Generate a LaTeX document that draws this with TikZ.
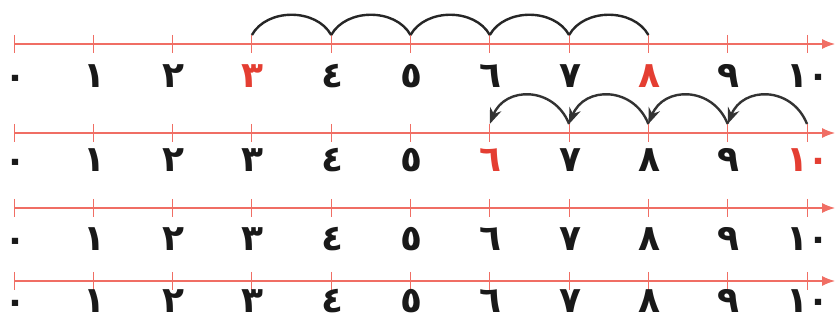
\documentclass[tikz,border=0pt]{standalone}
\usepackage{fontspec}
\newfontfamily\arabicfont[Script=Arabic]{DejaVu Sans}
\usetikzlibrary{arrows.meta}
\definecolor{linered}{RGB}{240,110,100}
\definecolor{numred}{RGB}{228,62,50}

\begin{document}
\begin{tikzpicture}[
    x=1pt, y=-1pt,
    axisline/.style={draw=linered, line width=1.2pt, -{Latex[length=13pt,width=10pt]}},
    tickmark/.style={draw=linered, line width=0.9pt},
    numlabel/.style={font=\arabicfont\bfseries\fontsize{36}{38}\selectfont, inner sep=0pt, text=black!90},
    hoparc/.style={draw=black!85, line width=2.4pt},
    backarc/.style={draw=black!80, line width=2.4pt, -{Stealth[length=16pt,width=12pt]}}
  ]
  \useasboundingbox (0,0) rectangle (836,323);

  % the four number lines, ticks and labels
  \foreach \row/\yy/\ly/\ra/\rb in {1/44/76/3/8, 2/133/160/6/10, 3/208/239/-1/-1, 4/281/301/-1/-1} {
    \coordinate (s\row) at (14,\yy);
    \coordinate (e\row) at (835,\yy);
    \draw[axisline] (s\row) -- (e\row);
    \foreach \n [count=\k from 0] in {٠,١,٢,٣,٤,٥,٦,٧,٨,٩,١٠} {
      \coordinate (t\row-\k) at ({14+79.3*\k},{\yy-9});
      \draw[tickmark] (t\row-\k) -- ++(0,18);
      \pgfmathsetmacro\zs{(\k==0)*(-6)}
      \node[numlabel, yshift=\zs pt] (n\row-\k) at ({14+79.3*\k+1},\ly)
        {\ifnum\k=\ra\relax\color{numred}\fi\ifnum\k=\rb\relax\color{numred}\fi\n};
    }
  }

  % jumps forward from 3 to 8
  \foreach \k [evaluate=\k as \j using int(\k+1)] in {3,...,7}
    \draw[hoparc] (t1-\k) .. controls +(15,-27) and +(-15,-27) .. (t1-\j);

  % jumps back from 10 to 6
  \foreach \k [evaluate=\k as \j using int(\k-1)] in {10,9,8,7}
    \draw[backarc] (t2-\k) .. controls +(-15,-38) and +(15,-38) .. (t2-\j);

\end{tikzpicture}
\end{document}
